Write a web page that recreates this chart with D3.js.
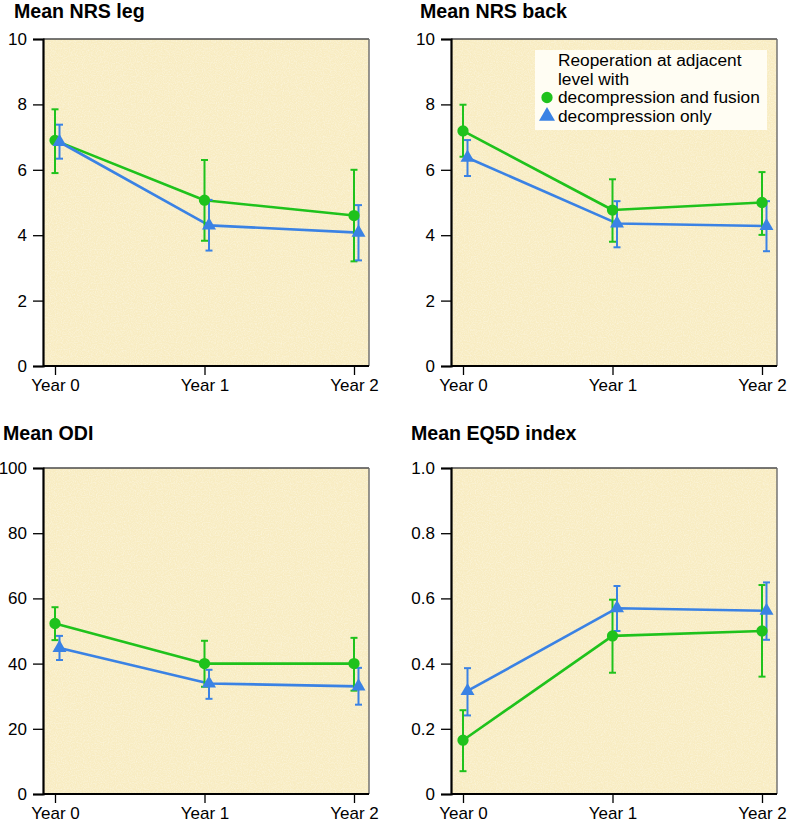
<!DOCTYPE html>
<html>
<head>
<meta charset="utf-8">
<script src="https://cdn.jsdelivr.net/npm/d3@7"></script>
<style>
  html, body { margin: 0; padding: 0; background: #ffffff; }
  svg { display: block; }
  text { font-family: "Liberation Sans", Arial, Helvetica, sans-serif; fill: #000; }
</style>
</head>
<body>
<svg id="chart" width="787" height="825"></svg>
<script>
// ---------- data ----------
const years = ["Year 0", "Year 1", "Year 2"];

const nrsLegTicks = [0, 2, 4, 6, 8, 10];
const nrsLegFusion = [6.9, 5.07, 4.6];
const nrsLegFusionLo = [5.9, 3.83, 3.2];
const nrsLegFusionHi = [7.85, 6.3, 6.0];
const nrsLegDecomp = [6.85, 4.3, 4.08];
const nrsLegDecompLo = [6.34, 3.53, 3.23];
const nrsLegDecompHi = [7.38, 5.08, 4.92];

const nrsBackTicks = [0, 2, 4, 6, 8, 10];
const nrsBackFusion = [7.19, 4.77, 5.0];
const nrsBackFusionLo = [6.4, 3.8, 4.01];
const nrsBackFusionHi = [7.99, 5.71, 5.93];
const nrsBackDecomp = [6.37, 4.36, 4.28];
const nrsBackDecompLo = [5.81, 3.63, 3.51];
const nrsBackDecompHi = [6.91, 5.04, 5.04];

const odiTicks = [0, 20, 40, 60, 80, 100];
const odiFusion = [52.3, 40.0, 40.0];
const odiFusionLo = [47.2, 32.9, 31.7];
const odiFusionHi = [57.3, 47.0, 47.9];
const odiDecomp = [44.8, 33.9, 33.0];
const odiDecompLo = [41.1, 29.2, 27.4];
const odiDecompHi = [48.5, 38.1, 38.7];

const eqTicks = [0, 0.2, 0.4, 0.6, 0.8, 1.0];
const eqTickLabels = ["0", "0.2", "0.4", "0.6", "0.8", "1.0"];
const eqFusion = [0.165, 0.485, 0.50];
const eqFusionLo = [0.07, 0.372, 0.36];
const eqFusionHi = [0.257, 0.596, 0.641];
const eqDecomp = [0.316, 0.57, 0.562];
const eqDecompLo = [0.241, 0.50, 0.473];
const eqDecompHi = [0.386, 0.638, 0.649];

const legendTitle = ["Reoperation at adjacent", "level with"];
const seriesNames = ["decompression and fusion", "decompression only"];

// ---------- style ----------
const GREEN = "#1fc21c";
const BLUE = "#3a82e4";
const BG = "#f8ecc2";

const svg = d3.select("#chart");

// grainy paper texture filter (light speckles)
const defs = svg.append("defs");
const filt = defs.append("filter").attr("id", "grain").attr("x", 0).attr("y", 0).attr("width", 1).attr("height", 1);
filt.append("feTurbulence").attr("type", "fractalNoise").attr("baseFrequency", 0.85).attr("numOctaves", 2).attr("seed", 3).attr("result", "noise");
filt.append("feColorMatrix").attr("in", "noise").attr("type", "matrix")
  .attr("values", "0 0 0 0 1  0 0 0 0 0.99  0 0 0 0 0.92  0 0 0 0.9 -0.35").attr("result", "tint");
filt.append("feComposite").attr("in", "tint").attr("in2", "SourceGraphic").attr("operator", "in");

function drawPanel(cfg) {
  const g = svg.append("g");
  const x0 = cfg.x0, x1 = cfg.x1, y0 = cfg.y0, y1 = cfg.y1;

  const x = d3.scalePoint().domain(years).range([x0 + 12, x1 - 15]);
  const y = d3.scaleLinear().domain(cfg.domain).range([y1, y0]);

  // background
  g.append("rect").attr("x", x0).attr("y", y0).attr("width", x1 - x0).attr("height", y1 - y0).attr("fill", BG);
  g.append("rect").attr("x", x0).attr("y", y0).attr("width", x1 - x0).attr("height", y1 - y0)
    .attr("fill", BG).attr("filter", "url(#grain)");

  // top and right frame
  g.append("line").attr("x1", x0).attr("x2", x1).attr("y1", y0).attr("y2", y0)
    .attr("stroke", "#4a4a4a").attr("stroke-width", 1.6);
  g.append("line").attr("x1", x1).attr("x2", x1).attr("y1", y0).attr("y2", y1)
    .attr("stroke", "#6a6a6a").attr("stroke-width", 1.4);

  // title
  g.append("text").attr("x", cfg.titleX).attr("y", cfg.titleY)
    .attr("font-size", 19.6).attr("font-weight", "bold").text(cfg.title);

  // y axis
  const yAxis = d3.axisLeft(y).tickValues(cfg.ticks).tickSize(10).tickPadding(6)
    .tickFormat((d, i) => cfg.tickLabels ? cfg.tickLabels[i] : d3.format("d")(d));
  const ya = g.append("g").attr("transform", `translate(${x0},0)`).call(yAxis);
  ya.select(".domain").attr("stroke", "#000").attr("stroke-width", 2.2);
  ya.selectAll(".tick line").attr("stroke", "#000").attr("stroke-width", 1.3);
  ya.selectAll(".tick text").attr("font-size", 17).attr("fill", "#000")
    .attr("font-family", '"Liberation Sans", Arial, sans-serif');

  // x axis
  const xAxis = d3.axisBottom(x).tickSize(9).tickPadding(4);
  const xa = g.append("g").attr("transform", `translate(0,${y1})`).call(xAxis);
  xa.select(".domain").attr("d", `M${x0},0H${x1}`).attr("stroke", "#000").attr("stroke-width", 2.2);
  xa.selectAll(".tick line").attr("stroke", "#000").attr("stroke-width", 1.3);
  xa.selectAll(".tick text").attr("font-size", 17).attr("fill", "#000")
    .attr("font-family", '"Liberation Sans", Arial, sans-serif');

  const series = [
    { mean: cfg.fusion, lo: cfg.fusionLo, hi: cfg.fusionHi, color: GREEN, dx: 0, shape: d3.symbolCircle, size: 100 },
    { mean: cfg.decomp, lo: cfg.decompLo, hi: cfg.decompHi, color: BLUE, dx: 4.5, shape: d3.symbolTriangle, size: 85 }
  ];

  const line = d3.line().x(d => d[0]).y(d => d[1]);

  series.forEach(s => {
    const pts = years.map((yr, i) => [x(yr) + s.dx, y(s.mean[i])]);
    g.append("path").attr("d", line(pts)).attr("fill", "none")
      .attr("stroke", s.color).attr("stroke-width", 2.6).attr("stroke-linejoin", "round");
  });

  series.forEach(s => {
    years.forEach((yr, i) => {
      const cx = x(yr) + s.dx;
      g.append("line").attr("x1", cx).attr("x2", cx).attr("y1", y(s.lo[i])).attr("y2", y(s.hi[i]))
        .attr("stroke", s.color).attr("stroke-width", 2);
      [s.lo[i], s.hi[i]].forEach(v => {
        g.append("line").attr("x1", cx - 3.5).attr("x2", cx + 3.5).attr("y1", y(v)).attr("y2", y(v))
          .attr("stroke", s.color).attr("stroke-width", 2);
      });
    });
  });

  series.forEach(s => {
    years.forEach((yr, i) => {
      g.append("path").attr("d", d3.symbol().type(s.shape).size(s.size)())
        .attr("transform", `translate(${x(yr) + s.dx},${y(s.mean[i])})`)
        .attr("fill", s.color);
    });
  });

  return { g, x, y };
}

drawPanel({
  title: "Mean NRS leg", titleX: 14, titleY: 18,
  x0: 43, x1: 369, y0: 39, y1: 366, domain: [0, 10], ticks: nrsLegTicks,
  fusion: nrsLegFusion, fusionLo: nrsLegFusionLo, fusionHi: nrsLegFusionHi,
  decomp: nrsLegDecomp, decompLo: nrsLegDecompLo, decompHi: nrsLegDecompHi
});

const p2 = drawPanel({
  title: "Mean NRS back", titleX: 420, titleY: 18,
  x0: 451, x1: 777, y0: 39, y1: 366, domain: [0, 10], ticks: nrsBackTicks,
  fusion: nrsBackFusion, fusionLo: nrsBackFusionLo, fusionHi: nrsBackFusionHi,
  decomp: nrsBackDecomp, decompLo: nrsBackDecompLo, decompHi: nrsBackDecompHi
});

drawPanel({
  title: "Mean ODI", titleX: 3, titleY: 440,
  x0: 43, x1: 369, y0: 468, y1: 794, domain: [0, 100], ticks: odiTicks,
  fusion: odiFusion, fusionLo: odiFusionLo, fusionHi: odiFusionHi,
  decomp: odiDecomp, decompLo: odiDecompLo, decompHi: odiDecompHi
});

drawPanel({
  title: "Mean EQ5D index", titleX: 411, titleY: 440,
  x0: 451, x1: 777, y0: 468, y1: 794, domain: [0, 1], ticks: eqTicks, tickLabels: eqTickLabels,
  fusion: eqFusion, fusionLo: eqFusionLo, fusionHi: eqFusionHi,
  decomp: eqDecomp, decompLo: eqDecompLo, decompHi: eqDecompHi
});

// ---------- legend (in NRS back panel) ----------
const lg = p2.g.append("g");
lg.append("rect").attr("x", 535).attr("y", 50).attr("width", 232).attr("height", 80)
  .attr("fill", "#fffdf5").attr("opacity", 0.96);
legendTitle.forEach((t, i) => {
  lg.append("text").attr("x", 558).attr("y", 66 + i * 18.6).attr("font-size", 17.3).text(t);
});
const legendColors = [GREEN, BLUE];
const legendShapes = [d3.symbolCircle, d3.symbolTriangle];
const legendSizes = [100, 110];
seriesNames.forEach((t, i) => {
  const yy = 103 + i * 18.6;
  lg.append("path").attr("d", d3.symbol().type(legendShapes[i]).size(legendSizes[i])())
    .attr("transform", `translate(547,${yy - 5.5})`).attr("fill", legendColors[i]);
  lg.append("text").attr("x", 558).attr("y", yy).attr("font-size", 17.3).text(t);
});
</script>
</body>
</html>
